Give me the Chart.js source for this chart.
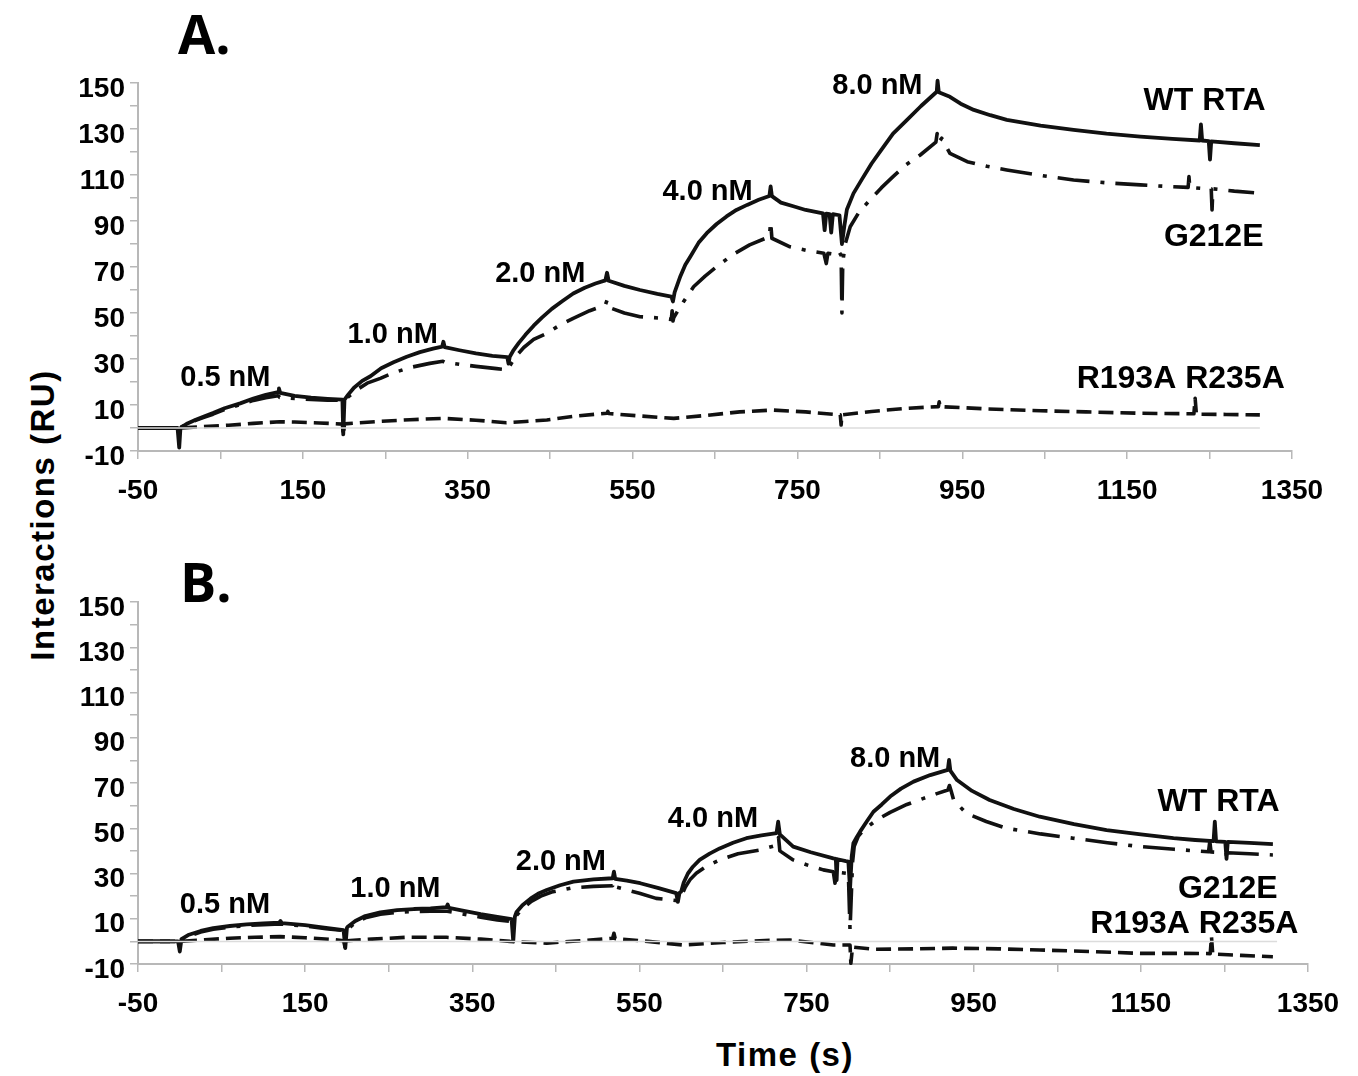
<!DOCTYPE html>
<html>
<head>
<meta charset="utf-8">
<script src="https://cdn.jsdelivr.net/npm/chart.js@4/dist/chart.umd.min.js"></script>
<style>
  body { margin:0; background:#fff; width:1358px; height:1076px; position:relative; overflow:hidden; }
  canvas { position:absolute; left:0; }
  .tag { position:absolute; font-family:"Open Sans", "Noto Sans", sans-serif; font-weight:700; font-size:54px; line-height:1; color:#000; }
  .ttl { position:absolute; width:400px; height:40px; line-height:40px; text-align:center; color:#000;
         font-family:"Liberation Sans", Arial, sans-serif; font-weight:700; font-size:33px; letter-spacing:1.5px; white-space:nowrap; }
</style>
</head>
<body>
<div class="tag" style="left:178px; top:6px;">A.</div>
<div class="tag" style="left:180px; top:554px;">B.</div>
<div class="ttl" style="left:-157px; top:495px; transform:rotate(-90deg);">Interactions (RU)</div>
<div class="ttl" style="left:585px; top:1035px;">Time (s)</div>
<canvas id="chartA" width="1358" height="520" style="top:0px"></canvas>
<canvas id="chartB" width="1358" height="510" style="top:520px"></canvas>
<script>
// axis ticks (major ones get a label)
const xTicks = [-50, 50, 150, 250, 350, 450, 550, 650, 750, 850, 950, 1050, 1150, 1250, 1350];
const xTickLabels = [-50, 150, 350, 550, 750, 950, 1150, 1350];
const yTicks = [-10, 0, 10, 20, 30, 40, 50, 60, 70, 80, 90, 100, 110, 120, 130, 140, 150];
const yTickLabels = [-10, 10, 30, 50, 70, 90, 110, 130, 150];

// panel A - [time s, RU]
const aBase = [[-50, 0], [1311, 0]];
const aWT = [[-50,0],[-2,0],[0,-8.5],[1.5,0],[10,2],[20,3.6],[30,5],[41,6.5],[55,8.6],[74,10.7],[90,12.8],[105,14.4],[120,15.6],[121,17.2],[122.5,15.3],
  [140,14],[160,13.2],[180,12.7],[198,12.3],[199,-2.8],[200.5,12.3],[205,14.5],[212,17.5],[222,20.5],[232,22.5],[245,26],[260,28.6],[276,31],[292,33],[308,34.5],
  [319,35.4],[320.5,37.5],[322,35.2],[340,33.8],[360,32.4],[380,31.4],[398,30.8],[399.5,28],[401,31],[405,33.5],[412,37],[420,40.5],[430,44.5],[440,48],[452,51.8],
  [465,55.2],[478,58.5],[492,61],[505,62.8],[517,64.2],[519,67.5],[521,64],[540,61.8],[559,60],[580,58.3],[597,57.1],[599,55],[601,59],[604,62],[608,66],[614,71],
  [620,74.5],[630,80.5],[640,84.7],[652,88.7],[664,92],[676,94.8],[689,97],[703,99.2],[716,100.9],[717.5,105],[719,100.8],[730,98],[745,96.4],[760,94.8],[781,93.3],
  [783,86],[785,93.2],[789,93],[791,85],[793,93],[801,92.5],[804,80],[807,88],[810,95],[818,102],[828,108],[840,115],[852,121],[866,128],[883,134],[900,140],
  [919,146.2],[920,151],[921.5,146],[935,144],[948,141],[964,138.3],[984,136],[1004,134],[1045,131.5],[1085,129.6],[1125,128],[1166,126.7],[1205,125.7],[1238,125],
  [1239.5,132],[1241,125],[1249,124.7],[1250.5,116.7],[1252,124.6],[1280,123.8],[1311,123]];
const aG212E = [[-50,0],[0,0],[10,1.8],[20,3.3],[30,4.6],[41,6],[55,8],[74,10.2],[90,12],[105,13.2],[120,14],[122,13.3],[140,12.8],[160,12.4],[180,12.1],[200,12],
  [205,13.5],[215,16.5],[228,19.5],[244,21.6],[260,24],[280,26.3],[304,28.1],[320,29],[322,28.6],[340,27.7],[360,26.8],[385,25.8],[399,25.3],[401,27],[408,31],
  [418,35],[430,38.5],[446,41.2],[462,44.8],[478,47.7],[498,51],[517,53.5],[519,55.5],[521,52.5],[540,50],[559,48.4],[587,47.7],[597,47.2],[598,51],[599,46.5],
  [600,48],[605,51],[612,55],[624,61.4],[638,66],[652,70.1],[672,75.5],[692,79.6],[716,83.2],[717.5,89.7],[719,82.5],[741,78.8],[760,77.3],[782,76],[785,71.5],
  [787,76],[796,75.5],[800,77],[803,75],[804,50],[805,72],[808,80],[814,87.5],[825,94],[838,99.1],[852,104.5],[866,109.3],[882,114.5],[899,118.7],[918,124.3],
  [919.5,128],[921,124],[925,126],[935,119.4],[956,115.8],[980,113.8],[1004,112.2],[1045,109.8],[1085,107.8],[1125,106.6],[1166,105.7],[1200,105],[1224,104.6],
  [1225,109.3],[1226,104.6],[1239,104.2],[1252,104],[1253,94.8],[1254,104],[1280,103],[1304,102.3]];
const aR193A = [[-50,0],[0,0],[30,0.6],[60,1.2],[90,2],[122,2.7],[140,2.6],[170,2.2],[198,1.7],[199,-3],[200.5,1.8],[240,2.8],[280,3.6],[320,4.2],[360,3.4],
  [397,2.3],[420,2.8],[446,3.5],[480,5.2],[519,6.4],[520,7.2],[521,6.3],[560,5.2],[600,4.2],[640,5.5],[680,7],[721,7.8],[760,7],[802,5.7],[803,1.3],[804,5.7],
  [840,7.2],[880,8.5],[921,9.3],[922,11.4],[923,9.3],[980,8.3],[1045,7.5],[1100,7],[1166,6.4],[1231,6.2],[1232.5,12.9],[1234,6],[1270,5.9],[1311,5.7]];

// panel B - [time s, RU]
const bBase = [[-50, 0], [1313, 0]];
const bWT = [[-50,0],[-2,0],[0,-4.5],[2,1],[10,2.8],[25,4.6],[40,5.9],[60,6.8],[80,7.5],[100,7.9],[119,8.3],[120.5,9],[122,8.1],[150,7.2],[175,6],[196,5],
  [198,-3],[200,6],[201,6.5],[210,9],[222,11.2],[240,12.8],[260,13.8],[280,14.3],[300,14.6],[319,15.1],[320.5,16.3],[322,14.8],[340,13.5],[360,12],[380,10.8],
  [397,9.8],[399,0],[401,11],[403,13],[410,16],[420,19],[430,21.3],[439,22.7],[455,24.8],[471,26.4],[495,27.4],[518,27.9],[519.5,30.8],[521,27.6],[535,26.8],
  [551,25.7],[573,23.5],[594,21.3],[596,17.5],[598,21.5],[600,22],[603,26],[608,30],[614,33],[622,36],[634,38.8],[646,41.1],[662,43.6],[678,45.6],[696,46.8],
  [714,47.8],[716,52.9],[718,47.3],[734,41.9],[755,39.4],[782,36.7],[785,36.5],[786,27],[787,36.3],[797,35.5],[800,35.3],[802,23],[804,37.4],[806,43.4],[810,46],
  [814,48.5],[822,53],[830,57.3],[840,60.5],[850,64],[863,67.5],[878,70.6],[898,73.5],[919,75.8],[920.5,80.2],[922,75.5],[930,71.3],[948,66.5],[969,62.5],
  [998,58.5],[1029,55.1],[1070,51.8],[1109,49.2],[1150,47.3],[1189,45.6],[1215,44.8],[1237,44.3],[1238.5,52.9],[1240,44.2],[1251,44],[1252.5,36.5],[1254,44],
  [1280,43.5],[1308,43]];
const bG212E = [[-50,0],[0,0],[10,2.3],[25,4.1],[40,5.4],[60,6.3],[80,7],[100,7.4],[120,7.7],[150,6.8],[175,5.6],[200,4.6],[203,6],[210,8.3],[222,10.4],
  [240,12],[260,12.8],[280,13.2],[300,13.3],[320,13.3],[340,12],[360,10.7],[380,9.5],[398,8.7],[402,11],[410,14.5],[420,17.5],[432,20],[445,21.8],[470,23.7],
  [495,24.3],[518,24.6],[520,26.5],[522,24],[550,21.3],[570,19],[596,18],[598,19],[600,20],[605,24],[611,27.5],[618,30.1],[630,33.2],[646,36],[668,38.7],
  [694,40.4],[715,42.6],[716.5,46],[718,40],[734,36],[752,33.6],[770,31.6],[782,30.8],[784,25.7],[786,30.6],[800,30],[802,5],[805,35],[807,42],[812,46.5],
  [818,49.2],[834,53.7],[850,57],[870,60.5],[890,63.2],[905,65.2],[919,66.9],[921,68.9],[923,66.5],[926,62.5],[941,56.6],[965,53],[989,50],[1030,47.5],
  [1069,45.6],[1110,43.6],[1149,41.9],[1190,40.7],[1231,39.6],[1232.5,44.2],[1234,39.5],[1252,39.2],[1253,35.9],[1254,39.2],[1280,38.7],[1308,38.2]];
const bR193A = [[-50,0],[0,0],[30,0.7],[60,1.4],[90,1.8],[120,2.1],[150,1.6],[180,0.9],[196,0.3],[198,-3],[200,0.3],[230,1],[271,1.8],[319,1.8],[360,1],
  [395,0],[439,-0.8],[480,0.3],[518,1.4],[519.5,3.6],[521,1.2],[560,0],[602,-1.6],[650,-0.5],[700,0.4],[730,0.6],[782,-1.6],[802,-1.6],[803,-9.7],[805,-2.5],
  [830,-3.5],[880,-3.3],[925,-3],[980,-3.3],[1029,-3.8],[1090,-4.5],[1149,-5.3],[1200,-5.3],[1233,-5.4],[1234.5,2.1],[1236,-5.6],[1270,-6.2],[1308,-6.8]];

// text labels at [text, time, RU]
const aConc = [['0.5 nM', 56, 21.7], ['1.0 nM', 259, 40.4], ['2.0 nM', 438, 67], ['4.0 nM', 641, 102.4], ['8.0 nM', 847, 148.7]];
const aNames = [['WT RTA', 1244, 141.9], ['G212E', 1255, 82.8], ['R193A R235A', 1215, 21.3]];
const bConc = [['0.5 nM', 54, 16.1], ['1.0 nM', 258, 23.2], ['2.0 nM', 456, 34.9], ['4.0 nM', 638, 54.1], ['8.0 nM', 856, 80.6]];
const bNames = [['WT RTA', 1243, 61.7], ['G212E', 1254, 23.2], ['R193A R235A', 1214, 7.7]];

const FONT = '"Liberation Sans", Arial, sans-serif';
const toXY = arr => arr.map(p => ({ x: p[0], y: p[1] }));

const notesPlugin = {
  id: 'notes',
  afterDatasetsDraw(chart, args, opts) {
    const { ctx, scales: { x, y } } = chart;
    ctx.save();
    ctx.fillStyle = '#000';
    ctx.textAlign = 'center';
    ctx.textBaseline = 'middle';
    for (const g of opts.groups) {
      ctx.font = `bold ${g.size}px ${FONT}`;
      g.items.forEach(([t, tx, ty]) => ctx.fillText(t, x.getPixelForValue(tx), y.getPixelForValue(ty)));
    }
    ctx.restore();
  }
};

function axisStyle(extra) {
  return Object.assign({
    type: 'linear',
    grid: { drawOnChartArea: false, drawTicks: true, tickLength: 8, color: '#b8b8b8', lineWidth: 1.5 },
    border: { display: true, color: '#b8b8b8', width: 2 },
  }, extra);
}

function makeChart(id, base, wt, g212, r193, conc, names, pad, xHeight) {
  return new Chart(document.getElementById(id), {
    type: 'line',
    data: {
      datasets: [
        { data: toXY(base), borderColor: '#dcdcdc', borderWidth: 1.5 },
        { data: toXY(r193), borderColor: '#111', borderWidth: 3.6, borderDash: [15, 7] },
        { data: toXY(g212), borderColor: '#111', borderWidth: 3.6, borderDash: [32, 11, 4, 11] },
        { data: toXY(wt), borderColor: '#111', borderWidth: 3.8 }
      ]
    },
    options: {
      responsive: false,
      animation: false,
      devicePixelRatio: 1,
      layout: { padding: pad },
      elements: { point: { radius: 0 }, line: { tension: 0, borderJoinStyle: 'round' } },
      datasets: { line: { clip: 6 } },
      plugins: {
        legend: { display: false },
        tooltip: { enabled: false },
        notes: { groups: [{ size: 29, items: conc }, { size: 32, items: names }] }
      },
      scales: {
        x: axisStyle({
          min: -50, max: 1350,
          afterBuildTicks: s => { s.ticks = xTicks.map(v => ({ value: v })); },
          afterFit: s => { s.height = xHeight; },
          ticks: {
            autoSkip: false, maxRotation: 0, padding: 15, color: '#000',
            font: { family: FONT, size: 28, weight: 'bold' },
            callback: v => xTickLabels.includes(v) ? String(v) : ''
          }
        }),
        y: axisStyle({
          min: -10, max: 150,
          afterBuildTicks: s => { s.ticks = yTicks.map(v => ({ value: v })); },
          afterFit: s => { s.width = 138; },
          ticks: {
            autoSkip: false, padding: 5, labelOffset: 6, color: '#000',
            font: { family: FONT, size: 28, weight: 'bold' },
            callback: v => yTickLabels.includes(v) ? String(v) : ''
          }
        })
      }
    },
    plugins: [notesPlugin]
  });
}

makeChart('chartA', aBase, aWT, aG212E, aR193A, aConc, aNames, { top: 83, right: 66, bottom: 0, left: 0 }, 69);
makeChart('chartB', bBase, bWT, bG212E, bR193A, bConc, bNames, { top: 82, right: 50, bottom: 0, left: 0 }, 66);
</script>
</body>
</html>
